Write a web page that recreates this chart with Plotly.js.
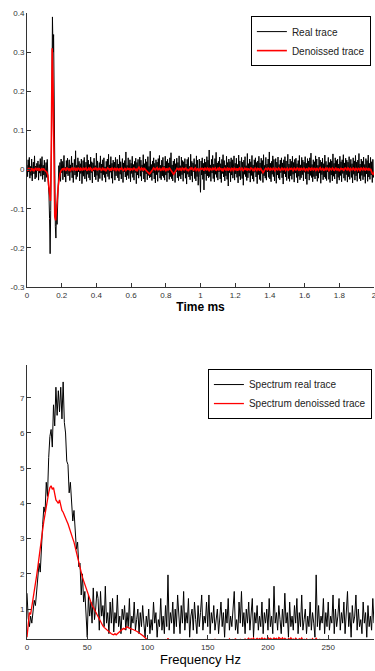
<!DOCTYPE html>
<html>
<head>
<meta charset="utf-8">
<script src="https://cdn.plot.ly/plotly-3.0.1.min.js"></script>
<style>html,body{margin:0;padding:0;background:#fff;}#chart{width:375px;height:671px;}</style>
</head>
<body>
<div id="chart"></div>
<script>
// ---- Top panel: time traces (ms) ----
const realTraceStart = 0;
const realTraceStep = 2 / 600;
const realTrace = [
.012,-.018,.025,-.006,.031,-.022,.008,-.015,.027,-.029,.004,.019,-.011,.035,-.024,.009,-.02,.016,-.003,.022,
-.027,.013,-.009,.028,-.017,.005,.033,-.025,.011,-.014,.024,-.031,.007,.018,-.02,.026,-.012,
-.035,-.065,-.125,-.215,-.105,-.02,.165,.39,.3,.345,.11,-.055,-.145,-.175,-.1,-.14,-.07,-.035,.01,
-.022,.018,-.03,.027,-.008,.021,-.026,.014,.036,-.019,.006,-.032,.023,-.011,.029,-.016,.003,.025,-.028,.012,
-.007,.034,-.021,.017,-.033,.009,.026,-.014,.048,-.025,.011,-.018,.03,-.006,.021,-.029,.015,-.01,.027,-.036,
.008,.023,-.017,.031,-.024,.005,.019,-.03,.038,-.012,.024,-.021,.013,-.027,.032,-.008,.02,-.034,.017,-.004,
.029,-.019,.01,-.026,.042,-.015,.022,-.031,.006,.018,-.023,.035,-.009,.014,-.028,.025,-.013,.03,-.02,.007,
-.032,.021,-.011,.027,-.018,.039,-.025,.012,-.007,.033,-.022,.016,-.035,.024,-.004,.019,-.027,.031,-.016,.009,
.026,-.021,.014,-.029,.037,-.012,.02,-.024,.008,.028,-.033,.017,-.006,.023,-.019,.045,-.026,.011,-.015,.03,
-.023,.007,.025,-.031,.016,-.01,.034,-.02,.013,-.027,.021,-.008,.029,-.036,.018,-.014,.026,-.022,.01,.032,
-.017,.024,-.029,.012,-.005,.038,-.024,.015,-.032,.027,-.011,.02,-.026,.033,-.015,.008,-.021,.047,-.019,.013,
-.028,.022,-.009,.03,-.024,.016,-.034,.025,-.013,.019,-.03,.028,-.007,.036,-.022,.011,-.026,.024,-.016,.031,
-.02,.009,-.027,.034,-.014,.021,-.031,.026,-.008,.017,-.025,.03,-.018,.043,-.023,.012,-.029,.022,-.011,.027,
-.033,.015,-.006,.029,-.021,.018,-.028,.035,-.017,.01,-.024,.032,-.013,.023,-.03,.02,-.009,.028,-.022,.014,
-.037,.026,-.012,.031,-.019,.008,-.026,.039,-.016,.021,-.032,.017,-.005,.028,-.023,.013,-.029,.035,-.018,.024,-.04,.011,.027,-.02,
-.058,.022,-.014,.03,-.025,.016,-.052,.027,-.011,.019,-.028,.033,-.016,.024,-.021,.05,-.018,.012,-.03,.026,
-.009,.036,-.023,.014,-.031,.028,-.012,.044,-.02,.017,-.027,.021,-.006,.032,-.024,.015,-.033,.026,-.01,.038,
-.019,.023,-.029,.011,-.016,.034,-.025,.018,-.042,.027,-.008,.02,-.031,.03,-.014,.025,-.022,.009,.035,-.027,
.016,-.011,.029,-.02,.013,-.034,.037,-.017,.022,-.026,.008,.031,-.023,.019,-.04,.024,-.012,.033,-.018,.01,
-.028,.041,-.021,.015,-.009,.027,-.032,.02,-.015,.036,-.024,.012,-.03,.025,-.007,.03,-.019,.018,-.036,.022,
-.013,.034,-.025,.017,-.028,.029,-.01,.023,-.033,.038,-.016,.011,-.022,.031,-.027,.014,-.006,.027,-.02,.045,
-.024,.016,-.031,.021,-.012,.035,-.018,.026,-.029,.009,.028,-.035,.019,-.014,.032,-.022,.013,-.026,.024,-.008,
.03,-.021,.017,-.037,.025,-.011,.033,-.019,.022,-.028,.01,.039,-.023,.014,-.03,.027,-.016,.021,-.025,.034,
-.012,.018,-.032,.026,-.009,.029,-.02,.015,-.034,.023,-.017,.036,-.026,.012,-.021,.031,-.013,.024,-.029,.019,
-.007,.033,-.024,.016,-.038,.028,-.011,.022,-.027,.03,-.015,.042,-.02,.013,-.031,.025,-.018,.02,-.024,.035,
-.016,.027,-.03,.011,-.022,.032,-.009,.024,-.035,.019,-.013,.029,-.026,.015,-.019,.037,-.023,.021,-.028,.012,
-.006,.031,-.025,.018,-.033,.026,-.014,.022,-.029,.04,-.017,.016,-.024,.03,-.011,.023,-.036,.027,-.02,.014,
-.027,.034,-.015,.02,-.031,.025,-.01,.038,-.022,.017,-.028,.029,-.013,.024,-.032,.019,-.018,.033,-.025,.011,
.026,-.02,.015,-.034,.03,-.012,.022,-.027,.036,-.016,.019,-.03,.024,-.009,.041,-.023,.014,-.029,.027,-.015,
.021,-.026,.032,-.018,.013,-.035,.028,-.011,.023,-.03,.037,-.019,.016,-.025,.031,-.014,.02,-.033,.026,-.02,
-.012
];

const denoisedStart = 0;
const denoisedStep = 0.005;
const denoisedTrace = [
.002,-.003,.004,.001,-.002,.003,-.001,.002,-.004,.001,.003,-.002,.002,-.001,.004,-.003,.001,.002,-.002,.003,
-.001,-.002,-.005,-.008,-.015,-.04,-.075,-.08,.05,.31,.22,.05,-.12,-.13,-.08,-.072,-.042,-.024,-.011,-.004,.001,
.003,-.002,.004,.001,-.003,.005,.002,-.001,.003,-.004,.002,.004,-.002,.001,.005,-.003,.002,-.001,.004,.002,
-.003,.003,.001,-.002,.005,-.001,.002,.004,-.003,.001,.003,-.002,.004,.002,-.004,.001,.003,-.001,.005,.002,
-.002,.004,-.001,.003,.001,-.003,.005,.002,-.002,.003,-.004,.001,.004,.002,-.001,.003,-.003,.005,.001,-.002,
.003,.002,-.004,.004,.001,-.002,.003,-.001,.005,.002,-.003,.001,.004,-.002,.002,.003,-.001,.004,-.003,.002,
.001,-.002,.005,.003,-.001,.002,-.004,.003,.006,.001,-.002,.004,.002,-.003,.003,.001,-.002,-.005,-.008,-.01,
-.011,-.009,-.006,-.003,.001,.004,.002,-.002,.003,.005,-.001,.002,.004,-.003,.001,.003,-.002,.004,.002,-.004,
.003,.001,-.002,.005,.002,-.001,-.004,-.008,-.012,-.009,-.005,-.001,.003,.002,-.002,.004,.001,-.003,.005,.002,
-.001,.003,.004,-.002,.002,-.004,.001,.003,-.001,.005,.002,-.003,.002,.004,-.002,.001,.003,-.004,.002,.004,
-.001,.003,.002,-.003,.005,.001,-.002,.004,.002,-.004,.003,.001,-.002,.005,-.001,.002,.004,-.003,.001,.003,
-.002,.004,.002,-.001,.003,-.004,.002,.005,-.002,.001,.003,-.003,.004,.001,-.002,.003,.002,-.004,.005,.001,
-.001,.003,-.003,.002,.004,-.002,.001,.005,-.004,.002,.003,-.001,.004,-.003,.002,.001,-.002,.004,.003,-.001,
.002,-.004,.005,.001,-.002,.003,.002,-.003,.004,.001,-.006,-.008,-.005,-.002,.003,.002,-.001,.004,.002,-.003,
.003,.001,-.002,.005,.002,-.004,.003,.001,-.001,.004,.002,-.003,.003,.005,-.002,.001,.004,-.002,.002,.003,
-.003,.002,.004,-.001,.003,.001,-.004,.005,.002,-.002,.003,.004,-.001,.002,-.003,.004,.001,-.002,.005,.002,
-.004,.003,.001,-.002,.004,.002,-.003,.005,.001,-.001,.003,.002,-.004,.004,.001,-.002,.003,.005,-.002,.002,
.004,-.003,.001,.003,-.002,.005,.002,-.004,.003,.001,-.001,.004,.002,-.003,.002,.005,-.002,.001,.003,-.004,
.002,.004,-.001,.003,-.003,.002,.005,.001,-.002,.004,.002,-.004,.003,.001,-.002,.005,.002,-.003,.004,.001,
-.002,.003,.002,-.004,.005,.001,-.002,.004,.002,-.003,.003,.001,-.001,.004,-.002,.002,-.006,-.01,-.012,-.008,-.003
];

// ---- Bottom panel: spectra (Hz) ----
const freqStart = 0;
const freqStep = 1;
const spectrumReal = [
1.45,0.75,0.5,0.8,0.6,1.0,1.25,1.1,1.6,1.9,
2.3,2.05,3.0,3.4,3.9,3.75,4.6,4.2,5.3,5.9,
6.1,5.6,6.8,6.2,7.3,6.5,7.2,6.6,7.3,6.4,
7.45,6.3,6.0,5.2,5.1,4.3,4.6,3.9,3.5,3.8,
3.1,2.7,2.9,2.2,2.3,1.4,2.0,1.2,1.5,0.9,
0.2,1.4,0.8,1.2,0.6,1.6,0.7,1.0,1.5,1.3,
0.4,1.5,0.8,1.1,0.5,1.65,0.6,0.9,0.3,1.2,
0.6,1.3,0.35,0.9,0.6,1.4,0.5,0.8,0.3,1.0,
0.7,1.1,0.4,0.9,0.5,1.3,0.3,0.8,0.6,1.2,
0.4,0.7,1.0,0.3,0.9,0.5,1.1,0.6,0.2,0.8,
0.5,1.0,0.3,0.7,0.4,1.2,0.6,0.9,0.2,0.7,
0.5,1.3,0.4,0.8,0.3,1.1,0.5,1.97,0.4,0.9,
0.6,1.2,0.3,1.0,0.5,1.4,0.7,0.3,1.1,0.6,
1.5,0.4,0.9,0.6,1.3,0.2,0.8,1.0,0.4,1.2,
0.7,0.3,1.1,0.5,0.9,1.4,0.4,0.8,0.6,1.2,
0.5,1.4,0.3,0.9,0.6,1.1,0.4,0.7,1.0,0.3,
0.8,1.2,0.5,0.9,0.2,1.0,0.6,1.3,0.4,0.8,
0.5,1.1,1.5,0.4,0.7,0.3,1.2,0.6,1.5,0.5,
0.9,0.3,1.0,0.6,1.2,0.4,0.8,1.3,0.2,0.9,
0.6,1.1,0.4,0.8,0.5,1.2,0.3,0.9,0.6,1.0,
0.4,1.3,0.5,0.8,0.3,1.65,0.6,0.9,0.4,1.1,
0.7,0.3,1.0,0.5,1.45,0.6,0.9,0.2,1.2,0.5,
0.8,0.4,1.1,0.6,1.3,0.3,0.9,0.5,1.4,0.4,
0.7,1.0,0.3,0.8,0.5,1.2,0.4,0.9,0.6,0.2,
1.97,0.5,1.1,0.4,0.8,0.6,1.3,0.3,0.9,0.5,
1.2,0.4,0.8,0.6,1.4,0.3,1.0,0.5,0.8,1.3,
0.4,0.9,0.6,1.2,0.3,0.8,1.5,0.5,0.9,0.2,
1.1,0.6,0.8,1.4,0.4,1.0,0.5,0.7,0.3,1.2,
0.6,0.9,0.2,1.1,0.5,0.8,0.4,1.3,0.6
];
const spectrumDenoised = [
0.2,0.5,0.9,0.85,1.05,1.25,1.45,1.7,1.95,2.2,
2.5,2.8,3.05,3.25,3.5,3.75,3.9,4.1,4.3,4.45,
4.5,4.4,4.45,4.25,4.1,4.05,4.0,4.1,3.9,3.8,
3.75,3.65,3.55,3.5,3.42,3.3,3.2,3.1,3.0,2.9,
2.75,2.6,2.45,2.3,2.15,2.0,1.9,1.8,1.7,1.6,
1.5,1.38,1.26,1.18,1.1,1.05,0.98,0.92,0.85,0.77,
0.7,0.63,0.57,0.52,0.48,0.45,0.4,0.37,0.35,0.32,
0.3,0.28,0.27,0.3,0.27,0.3,0.33,0.36,0.38,0.42,
0.45,0.43,0.48,0.5,0.47,0.45,0.44,0.43,0.42,0.41,
0.4,0.37,0.35,0.33,0.3,0.28,0.25,0.22,0.18,0.15,
0.12,
.1,.08,.11,.07,.09,.12,.06,.1,.08,.11,.09,.07,.12,.1,.13,.08,.17,.09,.11,.07,
.1,.12,.08,.06,.11,.09,.13,.07,.1,.08,.12,.09,.06,.11,.1,.08,.13,.07,.09,.11,
.08,.12,.1,.06,.09,.11,.07,.13,.1,.08,.12,.09,.07,.11,.1,.14,.08,.1,.12,.09,
.07,.11,.13,.08,.1,.12,.09,.15,.11,.08,.13,.1,.16,.09,.12,.11,.14,.1,.13,.12,
.15,.11,.14,.17,.12,.16,.13,.18,.12,.15,.17,.13,.16,.14,.18,.12,.17,.15,.13,.19,
.14,.17,.16,.13,.18,.15,.17,.12,.19,.16,.14,.18,.13,.17,.15,.12,.16,.14,.18,.13,
.15,.12,.17,.14,.11,.16,.13,.18,.12,.14,.11,.15,.13,.1,.14,.12,.16,.11,.13,.17,
.12,.1,.14,.11,.09,.13,.1,.12,.08,.11,.13,.09,.1,.12,.08,.11,.09,.13,.1,.07,
.11,.09,.12,.08,.1,.13,.07,.11,.09,.1,.08,.12,.09,.07,.11,.1,.08,.12,.09,.06,
.1,.08,.11,.07,.09,.12,.08,.1
];

const topYTickVals = [-0.3,-0.2,-0.1,0,0.1,0.2,0.3,0.4];
const topYTickText = ['-0.3','-0.2','-0.1','0','0.1','0.2','0.3','0.4'];
const topXTickVals = [0,0.2,0.4,0.6,0.8,1,1.2,1.4,1.6,1.8,2];
const topXTickText = ['0','0.2','0.4','0.6','0.8','1','1.2','1.4','1.6','1.8','2'];
const botXTickVals = [0,50,100,150,200,250];
const botYTickVals = [1,2,3,4,5,6,7];

const FONT = 'Liberation Sans, Arial, sans-serif';
const tickFont = {family: FONT, size: 8, color: '#333'};

const traces = [
  {type:'scatter', mode:'lines', name:'Real trace', x0: realTraceStart, dx: realTraceStep, y: realTrace,
   line:{color:'#000', width:1}, xaxis:'x', yaxis:'y', legend:'legend'},
  {type:'scatter', mode:'lines', name:'Denoissed trace', x0: denoisedStart, dx: denoisedStep, y: denoisedTrace,
   line:{color:'#ff0000', width:1.6}, xaxis:'x', yaxis:'y', legend:'legend'},
  {type:'scatter', mode:'lines', name:'Spectrum real trace', x0: freqStart, dx: freqStep, y: spectrumReal,
   line:{color:'#000', width:1}, xaxis:'x2', yaxis:'y2', legend:'legend2'},
  {type:'scatter', mode:'lines', name:'Spectrum denoissed trace', x0: freqStart, dx: freqStep, y: spectrumDenoised,
   line:{color:'#ff0000', width:1.3}, xaxis:'x2', yaxis:'y2', legend:'legend2'}
];

const axisCommon = {
  showline:true, linecolor:'#333', linewidth:1, ticks:'inside', ticklen:4, tickcolor:'#333',
  showgrid:false, zeroline:false, tickfont: tickFont, automargin:false, fixedrange:true,
  ticklabeloverflow:'allow'
};

const layout = {
  width:375, height:671,
  margin:{l:27, r:1, t:0, b:0},
  paper_bgcolor:'#fff', plot_bgcolor:'#fff',
  showlegend:true,
  xaxis: Object.assign({}, axisCommon, {domain:[0,1], anchor:'y', range:[0,2],
    tickmode:'array', tickvals: topXTickVals, ticktext: topXTickText,
    title:{text:'<b>Time ms</b>', font:{family:FONT, size:12, color:'#000'}, standoff:4}}),
  yaxis: Object.assign({}, axisCommon, {domain:[0.5723,0.9806], anchor:'x', range:[-0.3,0.4],
    tickmode:'array', tickvals: topYTickVals, ticktext: topYTickText}),
  xaxis2: Object.assign({}, axisCommon, {domain:[0,1], anchor:'y2', range:[0,288],
    tickmode:'array', tickvals: botXTickVals,
    title:{text:'Frequency Hz', font:{family:FONT, size:13, color:'#000'}, standoff:4}}),
  yaxis2: Object.assign({}, axisCommon, {domain:[0.0477,0.4560], anchor:'x2', range:[0.15,7.93],
    tickmode:'array', tickvals: botYTickVals}),
  legend:{x:0.991, xanchor:'right', y:0.976, yanchor:'top', bgcolor:'#fff', bordercolor:'#000', borderwidth:1,
    font:{family:FONT, size:10, color:'#222'}, tracegroupgap:0},
  legend2:{x:0.994, xanchor:'right', y:0.450, yanchor:'top', bgcolor:'#fff', bordercolor:'#000', borderwidth:1,
    font:{family:FONT, size:10, color:'#222'}, tracegroupgap:0}
};

Plotly.newPlot('chart', traces, layout, {displayModeBar:false, staticPlot:true});
</script>
</body>
</html>
